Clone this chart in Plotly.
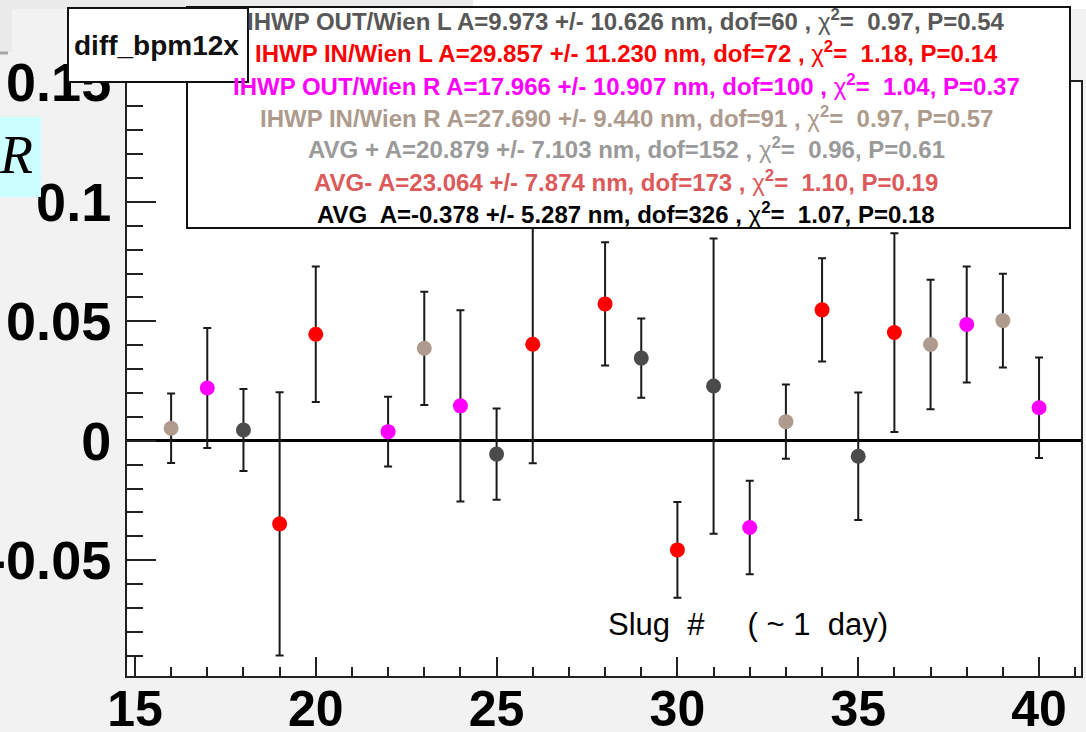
import plotly.graph_objects as go

# ---------------- data ----------------
# IHWP OUT / Wien L  (dark grey)
out_l_slug = [18, 25, 29, 31, 35]
out_l_val = [0.0045, -0.0056, 0.0346, 0.0229, -0.0065]
out_l_err = [0.0172, 0.0191, 0.0166, 0.0618, 0.0267]

# IHWP IN / Wien L  (red)
in_l_slug = [19, 20, 26, 28, 30, 34, 36]
in_l_val = [-0.0348, 0.0446, 0.0404, 0.0573, -0.0457, 0.0548, 0.0453]
in_l_err = [0.0551, 0.0284, 0.0498, 0.0258, 0.0200, 0.0216, 0.0416]

# IHWP OUT / Wien R  (magenta)
out_r_slug = [17, 22, 24, 32, 38, 40]
out_r_val = [0.0221, 0.0038, 0.0146, -0.0363, 0.0487, 0.0138]
out_r_err = [0.0251, 0.0146, 0.0400, 0.0196, 0.0243, 0.0210]

# IHWP IN / Wien R  (tan)
in_r_slug = [16, 23, 33, 37, 39]
in_r_val = [0.0052, 0.0387, 0.0080, 0.0403, 0.0503]
in_r_err = [0.01455, 0.0237, 0.0155, 0.0271, 0.0196]

series_colors = ["#4b4b4b", "#ff0000", "#ff00ff", "#af9b8d"]

fit_labels = [
    "IHWP OUT/Wien L A=9.973 +/- 10.626 nm, dof=60 , {chi}<sup>2</sup>=\u00a0 0.97, P=0.54",
    "IHWP IN/Wien L A=29.857 +/- 11.230 nm, dof=72 , {chi}<sup>2</sup>=\u00a0 1.18, P=0.14",
    "IHWP OUT/Wien R A=17.966 +/- 10.907 nm, dof=100 , {chi}<sup>2</sup>=\u00a0 1.04, P=0.37",
    "IHWP IN/Wien R A=27.690 +/- 9.440 nm, dof=91 , {chi}<sup>2</sup>=\u00a0 0.97, P=0.57",
    "AVG + A=20.879 +/- 7.103 nm, dof=152 , {chi}<sup>2</sup>=\u00a0 0.96, P=0.61",
    "AVG- A=23.064 +/- 7.874 nm, dof=173 , {chi}<sup>2</sup>=\u00a0 1.10, P=0.19",
    "AVG\u00a0 A=-0.378 +/- 5.287 nm, dof=326 , {chi}<sup>2</sup>=\u00a0 1.07, P=0.18",
]
fit_colors = ["#585858", "#ff0000", "#ff00ff", "#ad9b8e", "#9a9a9a", "#dc5a5a", "#000000"]

x_ticks = [15, 20, 25, 30, 35, 40]
y_ticks = [-0.05, 0, 0.05, 0.1, 0.15]
y_tick_text = ["-0.05", "0", "0.05", "0.1", "0.15"]

title_text = "diff_bpm12x"
xlabel_text = "Slug\u00a0 #\u00a0 \u00a0 \u00a0( ~ 1\u00a0 day)"

# ---------------- layout geometry ----------------
W, H = 1086, 732
L, R, T, B = 127, 1081, 82, 676


def px(x):
    return (x - L) / (R - L)


def py(y):
    return (B - y) / (B - T)


FONT = "Liberation Sans, Arial, Helvetica, sans-serif"

fig = go.Figure()

groups = [
    (out_l_slug, out_l_val, out_l_err),
    (in_l_slug, in_l_val, in_l_err),
    (out_r_slug, out_r_val, out_r_err),
    (in_r_slug, in_r_val, in_r_err),
]
for (xs, ys, es), col in zip(groups, series_colors):
    fig.add_trace(go.Scatter(
        x=xs, y=ys, mode="markers",
        marker=dict(color=col, size=15, line=dict(width=0)),
        error_y=dict(type="data", array=es, visible=True, color="#1a1a1a",
                     thickness=2, width=4),
        showlegend=False, cliponaxis=True,
    ))

shapes = []
# top strip artefacts of the screenshot
shapes.append(dict(type="rect", xref="paper", yref="paper", x0=px(0), x1=px(473),
                   y0=py(9), y1=py(-2), fillcolor="#eaeaea", line=dict(width=0), layer="above"))
shapes.append(dict(type="rect", xref="paper", yref="paper", x0=px(473), x1=px(W + 2),
                   y0=py(9), y1=py(-2), fillcolor="#ffffff", line=dict(width=0), layer="above"))
shapes.append(dict(type="rect", xref="paper", yref="paper", x0=px(-2), x1=px(12),
                   y0=py(52), y1=py(-2), fillcolor="#eaeaea", line=dict(width=0), layer="above"))
shapes.append(dict(type="line", xref="paper", yref="paper", x0=px(0), x1=px(8),
                   y0=py(53), y1=py(53), line=dict(color="#a8a8a8", width=3), layer="above"))
# cyan box with R
shapes.append(dict(type="rect", xref="paper", yref="paper", x0=px(-2), x1=px(41),
                   y0=py(197), y1=py(117), fillcolor="#ccffff", line=dict(width=0), layer="above"))
# fit results pave
shapes.append(dict(type="rect", xref="paper", yref="paper", x0=px(187), x1=px(1070),
                   y0=py(228), y1=py(7), fillcolor="#ffffff",
                   line=dict(color="#111111", width=2), layer="above"))
# title pave
shapes.append(dict(type="rect", xref="paper", yref="paper", x0=px(68), x1=px(248),
                   y0=py(82), y1=py(8), fillcolor="#ffffff",
                   line=dict(color="#111111", width=2), layer="above"))

annotations = []
annotations.append(dict(xref="paper", yref="paper", x=px(156), y=py(45), text=title_text,
                        showarrow=False, xanchor="center", yanchor="middle",
                        font=dict(family=FONT, size=28, color="#111111", weight="bold")))
line_y = [20.5, 52.5, 84.5, 116.5, 148.5, 180.5, 212.5]
for txt, col, yy in zip(fit_labels, fit_colors, line_y):
    annotations.append(dict(
        xref="paper", yref="paper", x=px(626), y=py(yy),
        text=txt.format(chi="<span style='font-weight:normal'>\u03c7</span>"),
        showarrow=False, xanchor="center", yanchor="middle",
        font=dict(family=FONT, size=24, color=col, weight="bold")))
annotations.append(dict(xref="paper", yref="paper", x=px(-3), y=py(155), text="R",
                        showarrow=False, xanchor="left", yanchor="middle",
                        font=dict(family="Liberation Serif, Times New Roman, serif",
                                  size=54, color="#000000", style="italic")))
annotations.append(dict(xref="paper", yref="paper", x=px(748), y=py(624), text=xlabel_text,
                        showarrow=False, xanchor="center", yanchor="middle",
                        font=dict(family=FONT, size=31, color="#000000")))

fig.update_layout(
    width=W, height=H,
    margin=dict(l=L, r=W - R, t=T, b=H - B, pad=0, autoexpand=False),
    paper_bgcolor="#f2f2f2", plot_bgcolor="#ffffff",
    shapes=shapes, annotations=annotations, showlegend=False,
)
fig.update_xaxes(
    range=[14.78, 41.16], showgrid=False, zeroline=False, automargin=False,
    showline=True, linecolor="#222222", linewidth=2, mirror=True,
    ticks="inside", ticklen=19, tickwidth=2, tickcolor="#222222",
    tickmode="array", tickvals=x_ticks, ticktext=[str(v) for v in x_ticks],
    tickfont=dict(family=FONT, size=50, color="#000000", weight="bold"),
    ticklabelstandoff=-12,
    minor=dict(ticks="inside", ticklen=9, tickwidth=2, tickcolor="#222222", dtick=1,
               tick0=15, showgrid=False),
)
fig.update_yaxes(
    range=[-0.0985, 0.1502], showgrid=False, automargin=False,
    zeroline=True, zerolinecolor="#000000", zerolinewidth=3,
    showline=True, linecolor="#222222", linewidth=2, mirror=True,
    ticks="inside", ticklen=29, tickwidth=2, tickcolor="#222222",
    tickmode="array", tickvals=y_ticks, ticktext=y_tick_text,
    tickfont=dict(family=FONT, size=54, color="#000000", weight="bold"),
    ticklabelstandoff=3,
    minor=dict(ticks="inside", ticklen=16, tickwidth=2, tickcolor="#222222", dtick=0.01,
               tick0=0, showgrid=False),
    layer="below traces",
)

fig.write_html("out.html", config={"displayModeBar": False},
               post_script="document.body.style.margin='0';document.body.style.overflow='hidden';")
